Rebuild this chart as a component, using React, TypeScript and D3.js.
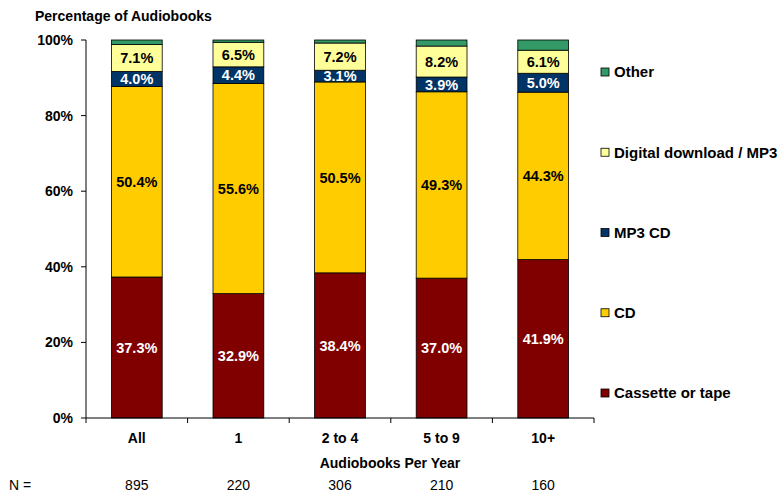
import React from 'react';
import * as d3 from 'd3';

const categories = ['All', '1', '2 to 4', '5 to 9', '10+'];
const nCounts = ['895', '220', '306', '210', '160'];
const seriesNames = ['Cassette or tape', 'CD', 'MP3 CD', 'Digital download / MP3', 'Other'];
const cassette = [37.3, 32.9, 38.4, 37.0, 41.9];
const cd = [50.4, 55.6, 50.5, 49.3, 44.3];
const mp3cd = [4.0, 4.4, 3.1, 3.9, 5.0];
const digital = [7.1, 6.5, 7.2, 8.2, 6.1];
const other = [1.2, 0.6, 0.8, 1.6, 2.7];
const yTicks = [0, 20, 40, 60, 80, 100];

const colors = ['#800000', '#FFCC00', '#003366', '#FFFF99', '#339966'];
const labelColors = ['#fff', '#000', '#fff', '#000', null];

const W = 782;
const H = 493;
const margin = { top: 40, left: 86, right: 188, bottom: 75 };
const font = '"Liberation Sans", Arial, sans-serif';

export default function App() {
  const values = [cassette, cd, mp3cd, digital, other];
  const rows = categories.map((c, i) => {
    const r: any = { cat: c };
    seriesNames.forEach((s, k) => (r[s] = values[k][i]));
    return r;
  });
  const stacked = d3.stack<any>().keys(seriesNames)(rows);

  const x = d3.scaleBand().domain(categories).range([margin.left, W - margin.right]).paddingInner(0).paddingOuter(0);
  const y = d3.scaleLinear().domain([0, 100]).range([H - margin.bottom, margin.top]);
  const bw = x.bandwidth() * 0.5;
  const legendY = d3.scaleLinear().domain([0, 4]).range([393, 72]);

  return (
    <svg width={W} height={H} style={{ position: 'absolute', left: 0, top: 0, fontFamily: font }}>
      <rect width={W} height={H} fill="#fff" />
      <text x={35} y={21} fontSize={14} fontWeight="bold">Percentage of Audiobooks</text>

      {stacked.map((layer, k) => (
        <g key={layer.key}>
          {layer.map((d, i) => {
            const x0 = (x(categories[i]) as number) + (x.bandwidth() - bw) / 2;
            const y0 = y(d[1]);
            const h = y(d[0]) - y(d[1]);
            return (
              <g key={i}>
                <rect x={x0} y={y0} width={bw} height={h} fill={colors[k]} stroke="#000" strokeWidth={0.8} />
                {labelColors[k] && (
                  <text x={x0 + bw / 2} y={y0 + h / 2} dy="0.36em" textAnchor="middle" fontSize={14.5}
                    fontWeight="bold" fill={labelColors[k] as string}>
                    {d3.format('.1f')(values[k][i])}%
                  </text>
                )}
              </g>
            );
          })}
        </g>
      ))}

      {/* y axis */}
      <line x1={margin.left} x2={margin.left} y1={y(0)} y2={y(100)} stroke="#000" />
      {yTicks.map(t => (
        <g key={t}>
          <line x1={margin.left - 5} x2={margin.left} y1={y(t)} y2={y(t)} stroke="#000" />
          <text x={margin.left - 13} y={y(t)} dy="0.36em" textAnchor="end" fontSize={14} fontWeight="bold">{t}%</text>
        </g>
      ))}

      {/* x axis */}
      <line x1={margin.left} x2={W - margin.right} y1={y(0)} y2={y(0)} stroke="#000" />
      {categories.map((c, i) => (
        <g key={c}>
          <line x1={(x(c) as number) + x.bandwidth()} x2={(x(c) as number) + x.bandwidth()} y1={y(0)} y2={y(0) + 5} stroke="#000" />
          <text x={(x(c) as number) + x.bandwidth() / 2} y={443} textAnchor="middle" fontSize={14} fontWeight="bold">{c}</text>
          <text x={(x(c) as number) + x.bandwidth() / 2} y={490} textAnchor="middle" fontSize={14}>{nCounts[i]}</text>
        </g>
      ))}
      <line x1={margin.left} x2={margin.left} y1={y(0)} y2={y(0) + 5} stroke="#000" />
      <text x={390} y={468} textAnchor="middle" fontSize={14} fontWeight="bold">Audiobooks Per Year</text>
      <text x={9} y={490} fontSize={14}>N =</text>

      {/* legend */}
      {seriesNames.map((s, k) => (
        <g key={s} transform={`translate(601,${legendY(k)})`}>
          <rect x={0} y={-4} width={8} height={8} fill={colors[k]} stroke="#000" strokeWidth={0.8} />
          <text x={13} y={0} dy="0.36em" fontSize={15} fontWeight="bold">{s}</text>
        </g>
      ))}
    </svg>
  );
}
